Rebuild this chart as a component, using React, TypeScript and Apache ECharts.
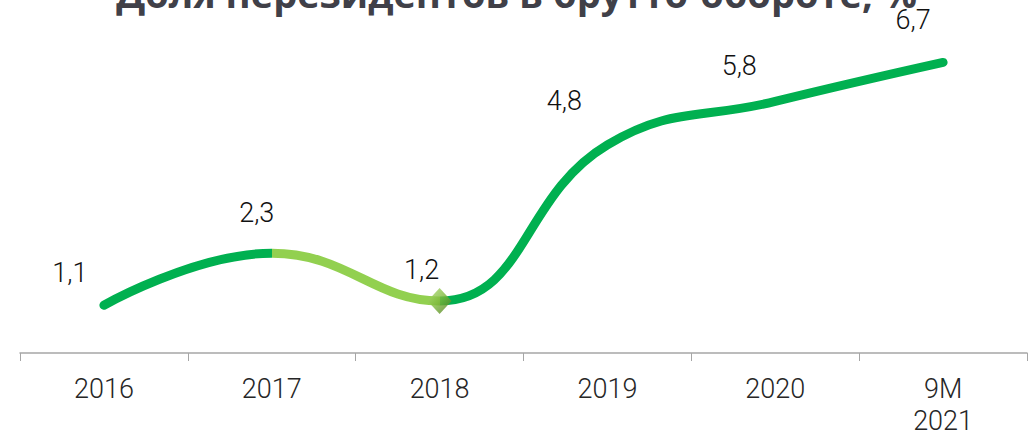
import React, { useEffect, useRef } from "react";
import * as echarts from "echarts";

const categories = ["2016", "2017", "2018", "2019", "2020", "9M\n2021"];
const values = [1.1, 2.3, 1.2, 4.8, 5.8, 6.7];
const markerIndex = 2;
const titleText = "Доля нерезидентов в брутто-обороте, %";
const labelOffsets: [number, number][] = [
  [-34, -14],
  [-15, -22],
  [-18, -12],
  [-43, -25],
  [-36, -17],
  [-30, -24],
];

export default function App() {
  const ref = useRef<HTMLDivElement>(null);
  useEffect(() => {
    document.body.style.margin = "0";
    const chart = echarts.init(ref.current!, undefined, { renderer: "svg" });
    const lineData = values.map((v, i) => ({
      value: v,
      label: { offset: labelOffsets[i] },
    }));
    const markerData = values.map((v, i) => (i === markerIndex ? v : null));
    chart.setOption({
      animation: false,
      title: {
        text: titleText,
        left: "center",
        top: -31,
        textStyle: {
          fontFamily: "Open Sans",
          fontWeight: "bold",
          fontSize: 38,
          color: "#404048",
        },
      },
      grid: { left: 20, right: 6, top: 6, bottom: 78, outerBoundsMode: "none" },
      xAxis: {
        type: "category",
        data: categories,
        boundaryGap: true,
        axisLine: { lineStyle: { color: "#A6A6A6", width: 1.5 } },
        axisTick: { show: true, length: 8, lineStyle: { color: "#A6A6A6" } },
        axisLabel: {
          fontFamily: "Roboto",
          fontWeight: 300,
          fontSize: 27,
          color: "#262626",
          margin: 20,
          lineHeight: 32,
        },
      },
      yAxis: { type: "value", min: 0, max: 8, show: false },
      visualMap: {
        show: false,
        type: "piecewise",
        dimension: 0,
        seriesIndex: 0,
        pieces: [{ gte: 1, lte: 2, color: "#92D050" }],
        outOfRange: { color: "#00B050" },
      },
      series: [
        {
          type: "line",
          data: lineData,
          smooth: 0.45,
          symbol: "circle",
          symbolSize: 0.1,
          showSymbol: true,
          lineStyle: { width: 9, cap: "round" },
          label: {
            show: true,
            position: "top",
            fontFamily: "Roboto",
            fontWeight: 300,
            fontSize: 27,
            color: "#111111",
            formatter: (p: any) => String(p.value).replace(".", ","),
          },
          z: 2,
        },
        {
          type: "scatter",
          data: markerData,
          symbol: "diamond",
          symbolSize: [24, 26],
          itemStyle: {
            color: new echarts.graphic.LinearGradient(0, 0, 1, 1, [
              { offset: 0, color: "#B5E07A" },
              { offset: 0.5, color: "#7DB83A" },
              { offset: 1, color: "#4A7420" },
            ]),
          },
          z: 3,
        },
      ],
    });
    return () => chart.dispose();
  }, []);
  return <div ref={ref} style={{ width: 1033, height: 431 }} />;
}
